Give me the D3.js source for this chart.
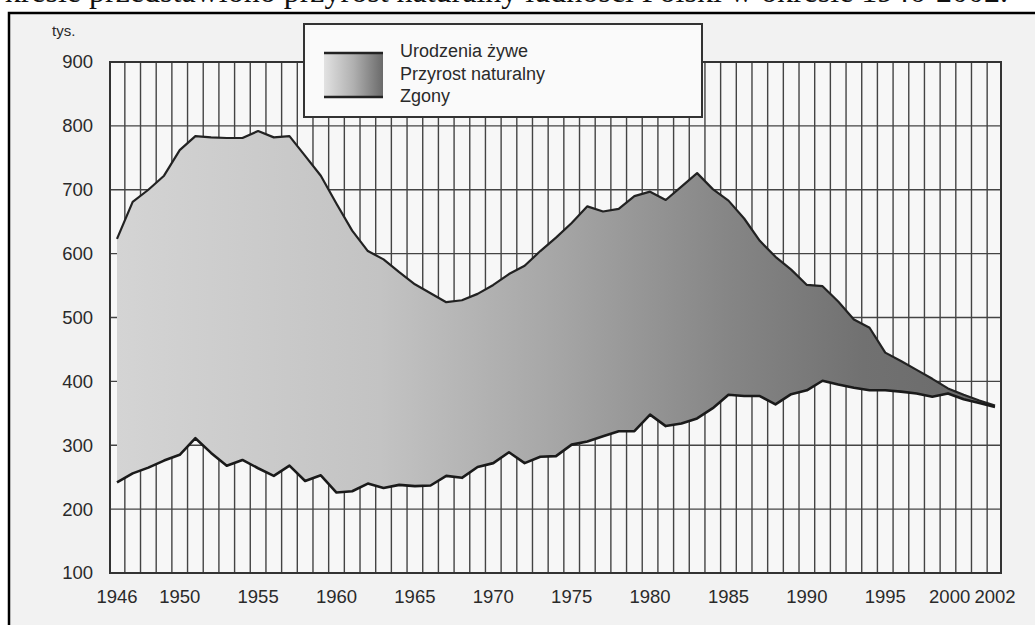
<!DOCTYPE html>
<html>
<head>
<meta charset="utf-8">
<script src="https://cdn.jsdelivr.net/npm/d3@7"></script>
<style>
  body { margin: 0; background: #fff; }
  svg { display: block; }
</style>
</head>
<body>
<div id="chart"></div>
<script>
// lata
const years = d3.range(1946, 2003)
// urodzenia żywe (tys.)
const births = [623, 681, 700, 722, 762, 784, 782, 781, 781, 792,
  782, 784, 753, 722, 678, 636, 604, 591, 571, 552,
  538, 524, 527, 537, 551, 568, 581, 604, 625, 648,
  674, 666, 670, 690, 697, 684, 705, 726, 701, 683,
  655, 620, 595, 575, 551, 549, 525, 497, 484, 445,
  432, 418, 404, 389, 379, 370, 362]
// zgony (tys.)
const deaths = [242, 256, 265, 276, 285, 311, 288, 268, 277, 264,
  252, 268, 244, 253, 226, 228, 240, 233, 238, 236,
  237, 252, 249, 266, 272, 289, 272, 282, 283, 301,
  306, 314, 322, 322, 348, 330, 334, 342, 358, 379,
  377, 377, 364, 380, 386, 401, 395, 390, 386, 386,
  384, 381, 376, 381, 372, 366, 360]
const yTicks = [100, 200, 300, 400, 500, 600, 700, 800, 900]
const xTicks = [1946, 1950, 1955, 1960, 1965, 1970, 1975, 1980, 1985, 1990, 1995, 2000, 2002]
const legendLabels = ['Urodzenia żywe', 'Przyrost naturalny', 'Zgony']

const W = 1035, H = 625
const frame = { left: 110, right: 1001, top: 62, bottom: 573 }

const data = years.map((yr, i) => ({ year: yr, births: births[i], deaths: deaths[i] }))

const svg = d3.select('#chart').append('svg')
  .attr('width', W)
  .attr('height', H)
  .style('font-family', '"Liberation Sans", Arial, sans-serif')

const x = d3.scaleLinear()
  .domain([1946, 2002])
  .range([117, 995])

const y = d3.scaleLinear()
  .domain([100, 900])
  .range([frame.bottom, frame.top])

// tekst nad ramką (ucięty jak w oryginale)
svg.append('text')
  .attr('x', 1008)
  .attr('y', 2)
  .attr('text-anchor', 'end')
  .style('font-family', '"Liberation Serif", "Times New Roman", serif')
  .style('font-size', '32px')
  .attr('fill', '#111')
  .text('Na wykresie przedstawiono przyrost naturalny ludności Polski w okresie 1946-2002.')

// ramka rysunku
svg.append('rect')
  .attr('x', 9)
  .attr('y', 13)
  .attr('width', W + 20)
  .attr('height', H + 20)
  .attr('fill', '#f2f2f2')
  .attr('stroke', '#000')
  .attr('stroke-width', 2.5)

// tło wykresu
svg.append('rect')
  .attr('x', frame.left)
  .attr('y', frame.top)
  .attr('width', frame.right - frame.left)
  .attr('height', frame.bottom - frame.top)
  .attr('fill', '#f7f7f7')

// siatka
const grid = svg.append('g')
  .attr('stroke', '#444')
  .attr('stroke-width', 1.4)

grid.selectAll('.vline')
  .data(years.slice(0, -1))
  .join('line')
  .attr('class', 'vline')
  .attr('x1', d => x(d + 0.5))
  .attr('x2', d => x(d + 0.5))
  .attr('y1', frame.top)
  .attr('y2', frame.bottom)

grid.selectAll('.hline')
  .data(yTicks.slice(1, -1))
  .join('line')
  .attr('class', 'hline')
  .attr('x1', frame.left)
  .attr('x2', frame.right)
  .attr('y1', d => y(d))
  .attr('y2', d => y(d))

// gradienty
const defs = svg.append('defs')
const grad = defs.append('linearGradient')
  .attr('id', 'areaGrad')
  .attr('gradientUnits', 'userSpaceOnUse')
  .attr('x1', x(1946)).attr('x2', x(2002))
  .attr('y1', 0).attr('y2', 0)
grad.selectAll('stop')
  .data([[0, '#d4d4d4'], [0.3, '#c3c3c3'], [0.5, '#a6a6a6'], [0.7, '#858585'], [0.85, '#717171'], [1, '#6a6a6a']])
  .join('stop')
  .attr('offset', d => d[0])
  .attr('stop-color', d => d[1])

const legGrad = defs.append('linearGradient')
  .attr('id', 'legGrad')
legGrad.selectAll('stop')
  .data([[0, '#e2e2e2'], [0.5, '#b0b0b0'], [1, '#6a6a6a']])
  .join('stop')
  .attr('offset', d => d[0])
  .attr('stop-color', d => d[1])

// obszar przyrostu
const area = d3.area()
  .x(d => x(d.year))
  .y0(d => y(d.deaths))
  .y1(d => y(d.births))

svg.append('path')
  .datum(data)
  .attr('d', area)
  .attr('fill', 'url(#areaGrad)')

const lineB = d3.line().x(d => x(d.year)).y(d => y(d.births))
const lineD = d3.line().x(d => x(d.year)).y(d => y(d.deaths))

svg.append('path')
  .datum(data)
  .attr('d', lineB)
  .attr('fill', 'none')
  .attr('stroke', '#222')
  .attr('stroke-width', 2.2)
  .attr('stroke-linejoin', 'round')

svg.append('path')
  .datum(data)
  .attr('d', lineD)
  .attr('fill', 'none')
  .attr('stroke', '#1a1a1a')
  .attr('stroke-width', 2.6)
  .attr('stroke-linejoin', 'round')

// ramka osi
svg.append('rect')
  .attr('x', frame.left)
  .attr('y', frame.top)
  .attr('width', frame.right - frame.left)
  .attr('height', frame.bottom - frame.top)
  .attr('fill', 'none')
  .attr('stroke', '#333')
  .attr('stroke-width', 2)

// opisy osi Y
svg.append('g')
  .selectAll('text')
  .data(yTicks)
  .join('text')
  .attr('x', 93)
  .attr('y', d => y(d))
  .attr('dy', '0.35em')
  .attr('text-anchor', 'end')
  .style('font-size', '18.5px')
  .attr('fill', '#2a2a2a')
  .text(d => d)

svg.append('text')
  .attr('x', 52)
  .attr('y', 36)
  .style('font-size', '15px')
  .attr('fill', '#2a2a2a')
  .text('tys.')

// opisy osi X
svg.append('g')
  .selectAll('text')
  .data(xTicks)
  .join('text')
  .attr('x', d => x(d) + (d === 2000 ? -14 : 0))
  .attr('y', 603)
  .attr('text-anchor', 'middle')
  .style('font-size', '18.5px')
  .attr('fill', '#2a2a2a')
  .text(d => d)

// legenda
const leg = svg.append('g')
leg.append('rect')
  .attr('x', 304)
  .attr('y', 24)
  .attr('width', 398)
  .attr('height', 93)
  .attr('fill', '#fafafa')
  .attr('stroke', '#333')
  .attr('stroke-width', 2)

leg.append('rect')
  .attr('x', 324)
  .attr('y', 53)
  .attr('width', 59)
  .attr('height', 44)
  .attr('fill', 'url(#legGrad)')

leg.selectAll('line')
  .data([53, 97])
  .join('line')
  .attr('x1', 324)
  .attr('x2', 383)
  .attr('y1', d => d)
  .attr('y2', d => d)
  .attr('stroke', '#222')
  .attr('stroke-width', 2.5)

leg.selectAll('text')
  .data(legendLabels)
  .join('text')
  .attr('x', 400)
  .attr('y', (d, i) => 57 + i * 22.5)
  .style('font-size', '18px')
  .attr('fill', '#2a2a2a')
  .text(d => d)
</script>
</body>
</html>
